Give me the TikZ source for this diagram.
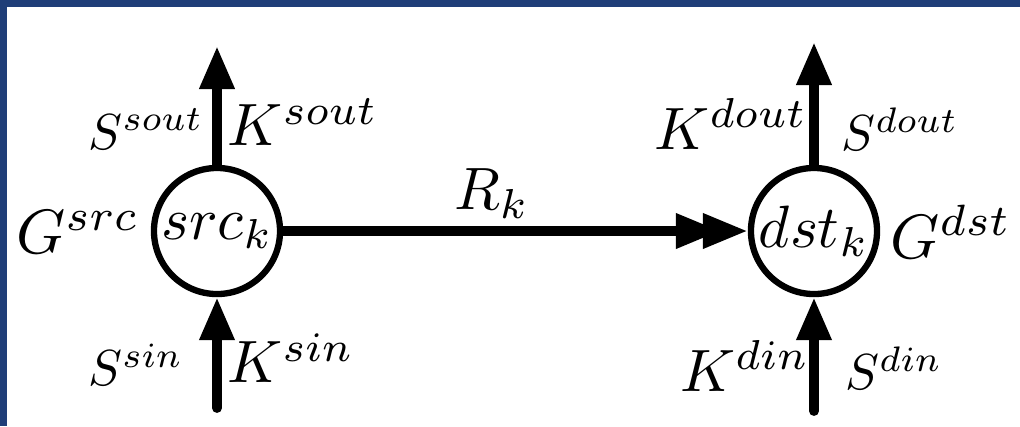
\documentclass[tikz,border=0pt]{standalone}
\usetikzlibrary{arrows.meta}
\definecolor{frameblue}{RGB}{31,62,120}
\newcommand{\sbx}[1]{\scalebox{1.7}{#1}}
\newcommand{\ssbx}[1]{\scalebox{1.44}{#1}}
\begin{document}
\begin{tikzpicture}[x=0.01cm,y=-0.01cm,
  font=\normalsize,
  lbl/.style={inner sep=0pt},
  vnode/.style={draw,circle,line width=1.8pt,minimum size=1.26cm,inner sep=0pt},
  conn/.style={line width=2.8pt,line cap=round},
  tip/.style={-{Triangle[length=4.3mm,width=3.3mm]}},
  dtip/.style={-{Triangle[length=4.5mm,width=3.3mm,sep=-1.8mm]Triangle[length=4.5mm,width=3.3mm]}}]
\useasboundingbox (0,0) rectangle (1020,426);
\fill[white] (0,0) rectangle (1020,426);
\fill[frameblue] (0,0) rectangle (1020,7);
\fill[frameblue] (0,0) rectangle (7,426);
% nodes
\node[vnode] (src) at (217,231) {\sbx{$src_k$}};
\node[vnode] (dst) at (814,231) {\sbx{$dst_k$}};
\coordinate (srcup) at (217,46);
\coordinate (srcdown) at (217,408);
\coordinate (dstup) at (814,42);
\coordinate (dstdown) at (814,411);
% connectors
\draw[conn,tip] (src.north) -- (srcup);
\draw[conn,tip] (srcdown) -- (src.south);
\draw[conn,tip] (dst.north) -- (dstup);
\draw[conn,tip] (dstdown) -- (dst.south);
\draw[conn,dtip,line cap=butt] (src.east) -- (dst.west);
% labels
\node[lbl] (ssout) at (146,129) {\ssbx{$S^{sout}$}};
\node[lbl] (ksout) at (303,122) {\sbx{$K^{sout}$}};
\node[lbl] (gsrc) at (78,232) {\scalebox{1.78}{$G^{src}$}};
\node[lbl] (ssin) at (136,365) {\ssbx{$S^{sin}$}};
\node[lbl] (ksin) at (291,358) {\sbx{$K^{sin}$}};
\node[lbl] (rk) at (492,194) {\sbx{$R_k$}};
\node[lbl] (kdout) at (731,124) {\sbx{$K^{dout}$}};
\node[lbl] (sdout) at (900,129) {\ssbx{$S^{dout}$}};
\node[lbl] (gdst) at (951,232) {\scalebox{1.78}{$G^{dst}$}};
\node[lbl] (kdin) at (745,366) {\sbx{$K^{din}$}};
\node[lbl] (sdin) at (894,368) {\ssbx{$S^{din}$}};
\end{tikzpicture}
\end{document}
